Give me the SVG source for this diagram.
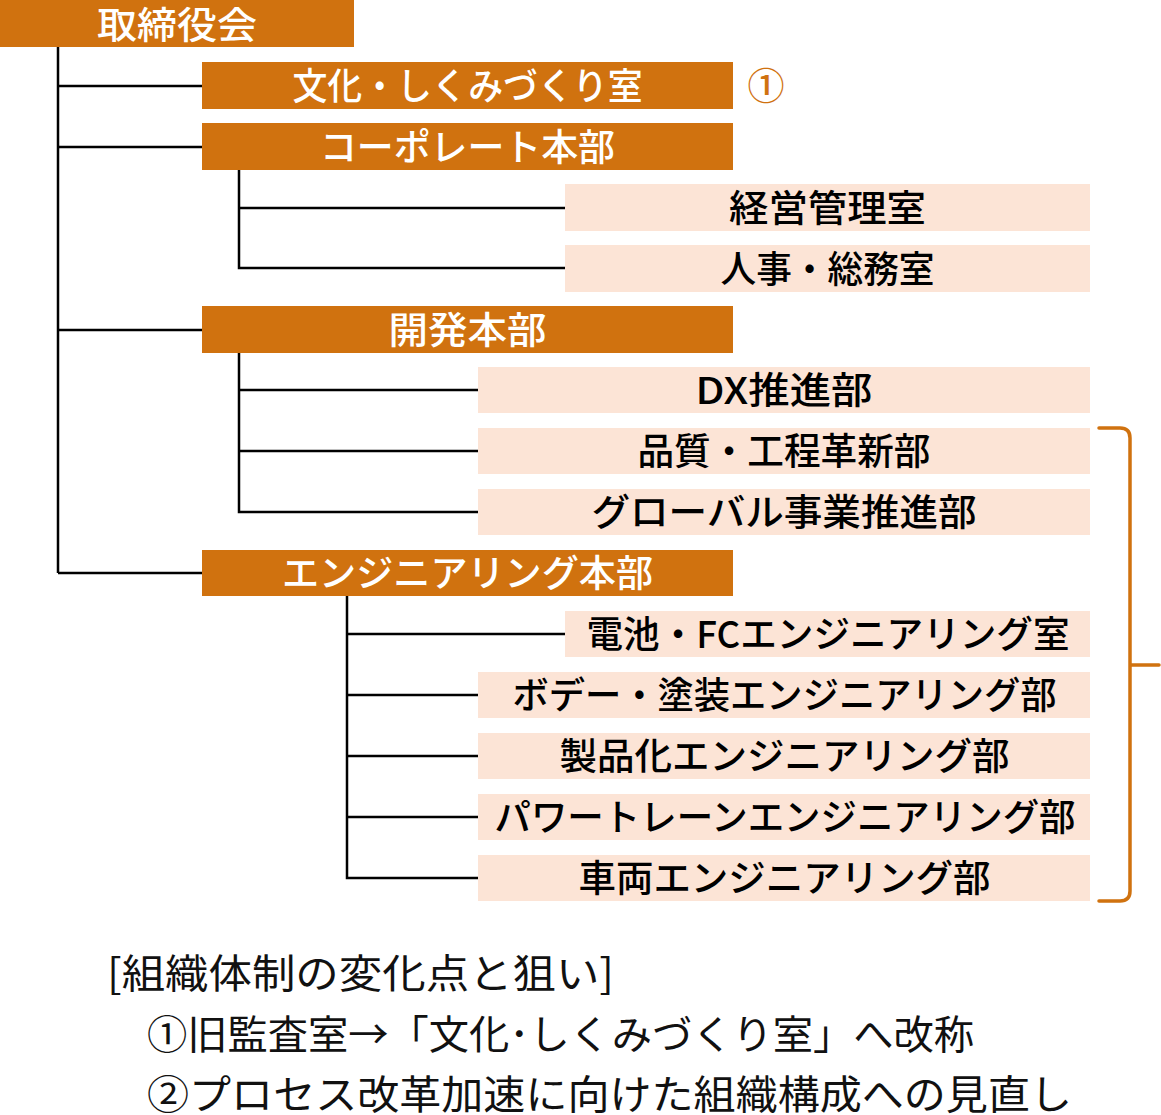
<svg xmlns="http://www.w3.org/2000/svg" width="1161" height="1115" viewBox="0 0 1161 1115">
<style>
.hq{fill:#D0720F}
.dp{fill:#FCE4D6}
.t{font-family:"Noto Sans CJK JP","Noto Sans",sans-serif;font-size:37px;font-weight:500;text-anchor:middle;dominant-baseline:central}
.w{fill:#FFFFFF}
.k{fill:#000000}
.ln{stroke:#000;stroke-width:2.5;fill:none}
.br{stroke:#D0720F;stroke-width:3.5;fill:none;stroke-linecap:round}
.note{font-family:"Noto Sans CJK JP","Noto Sans",sans-serif;font-size:40px;font-weight:400;fill:#111;dominant-baseline:central}
</style>
<rect width="1161" height="1115" fill="#fff"/>
<g id="connectors">
<path class="ln" d="M58 47V573M58 86H202M58 147H202M58 330H202M58 573H202"/>
<path class="ln" d="M239 170V268H565M239 208H565"/>
<path class="ln" d="M239 353V512H478M239 390H478M239 451H478"/>
<path class="ln" d="M347 596V878H478M347 634H565M347 695H478M347 756H478M347 817H478"/>
<path class="br" d="M1099 428H1120Q1130 428 1130 438V891Q1130 901 1120 901H1099M1130 665H1159"/>
</g>
<g id="n-board"><rect class="hq" x="0" y="0" width="354" height="47"/><text class="t w" x="177" y="23" textLength="160" lengthAdjust="spacingAndGlyphs">取締役会</text></g>
<g id="n-culture"><rect class="hq" x="202" y="62" width="531" height="47"/><text class="t w" x="467.5" y="84" textLength="350" lengthAdjust="spacingAndGlyphs">文化・しくみづくり室</text><text class="t" x="766" y="84" fill="#D0720F" font-weight="400" font-size="38">①</text></g>
<g id="n-corp"><rect class="hq" x="202" y="123" width="531" height="47"/><text class="t w" x="467.5" y="145" textLength="295" lengthAdjust="spacingAndGlyphs">コーポレート本部</text></g>
<g id="n-mgmt"><rect class="dp" x="565" y="184" width="525" height="47"/><text class="t k" x="827.5" y="206" textLength="197" lengthAdjust="spacingAndGlyphs">経営管理室</text></g>
<g id="n-hr"><rect class="dp" x="565" y="245" width="525" height="47"/><text class="t k" x="827.5" y="267" textLength="214" lengthAdjust="spacingAndGlyphs">人事・総務室</text></g>
<g id="n-dev"><rect class="hq" x="202" y="306" width="531" height="47"/><text class="t w" x="467.5" y="328" textLength="158" lengthAdjust="spacingAndGlyphs">開発本部</text></g>
<g id="n-dx"><rect class="dp" x="478" y="367" width="612" height="46"/><text class="t k" x="784" y="388" textLength="177" lengthAdjust="spacingAndGlyphs">DX推進部</text></g>
<g id="n-quality"><rect class="dp" x="478" y="428" width="612" height="46"/><text class="t k" x="784" y="449" textLength="293" lengthAdjust="spacingAndGlyphs">品質・工程革新部</text></g>
<g id="n-global"><rect class="dp" x="478" y="489" width="612" height="46"/><text class="t k" x="784" y="510" textLength="385" lengthAdjust="spacingAndGlyphs">グローバル事業推進部</text></g>
<g id="n-eng"><rect class="hq" x="202" y="550" width="531" height="46"/><text class="t w" x="467.5" y="571" textLength="371" lengthAdjust="spacingAndGlyphs">エンジニアリング本部</text></g>
<g id="n-battery"><rect class="dp" x="565" y="611" width="525" height="46"/><text class="t k" x="828" y="632" textLength="483" lengthAdjust="spacingAndGlyphs">電池・FCエンジニアリング室</text></g>
<g id="n-body"><rect class="dp" x="478" y="672" width="612" height="46"/><text class="t k" x="784.5" y="693" textLength="544" lengthAdjust="spacingAndGlyphs">ボデー・塗装エンジニアリング部</text></g>
<g id="n-product"><rect class="dp" x="478" y="733" width="612" height="46"/><text class="t k" x="784.5" y="754" textLength="450" lengthAdjust="spacingAndGlyphs">製品化エンジニアリング部</text></g>
<g id="n-pt"><rect class="dp" x="478" y="794" width="612" height="46"/><text class="t k" x="785" y="815" textLength="581" lengthAdjust="spacingAndGlyphs">パワートレーンエンジニアリング部</text></g>
<g id="n-vehicle"><rect class="dp" x="478" y="855" width="612" height="46"/><text class="t k" x="784.5" y="876" textLength="412" lengthAdjust="spacingAndGlyphs">車両エンジニアリング部</text></g>
<g id="notes">
<text class="note" x="107" y="971" textLength="507" lengthAdjust="spacingAndGlyphs">[組織体制の変化点と狙い]</text>
<text class="note" x="147" y="1032" textLength="827" lengthAdjust="spacingAndGlyphs">①旧監査室→「文化･しくみづくり室」へ改称</text>
<text class="note" x="147" y="1092" textLength="925" lengthAdjust="spacingAndGlyphs">②プロセス改革加速に向けた組織構成への見直し</text>
</g>
</svg>
